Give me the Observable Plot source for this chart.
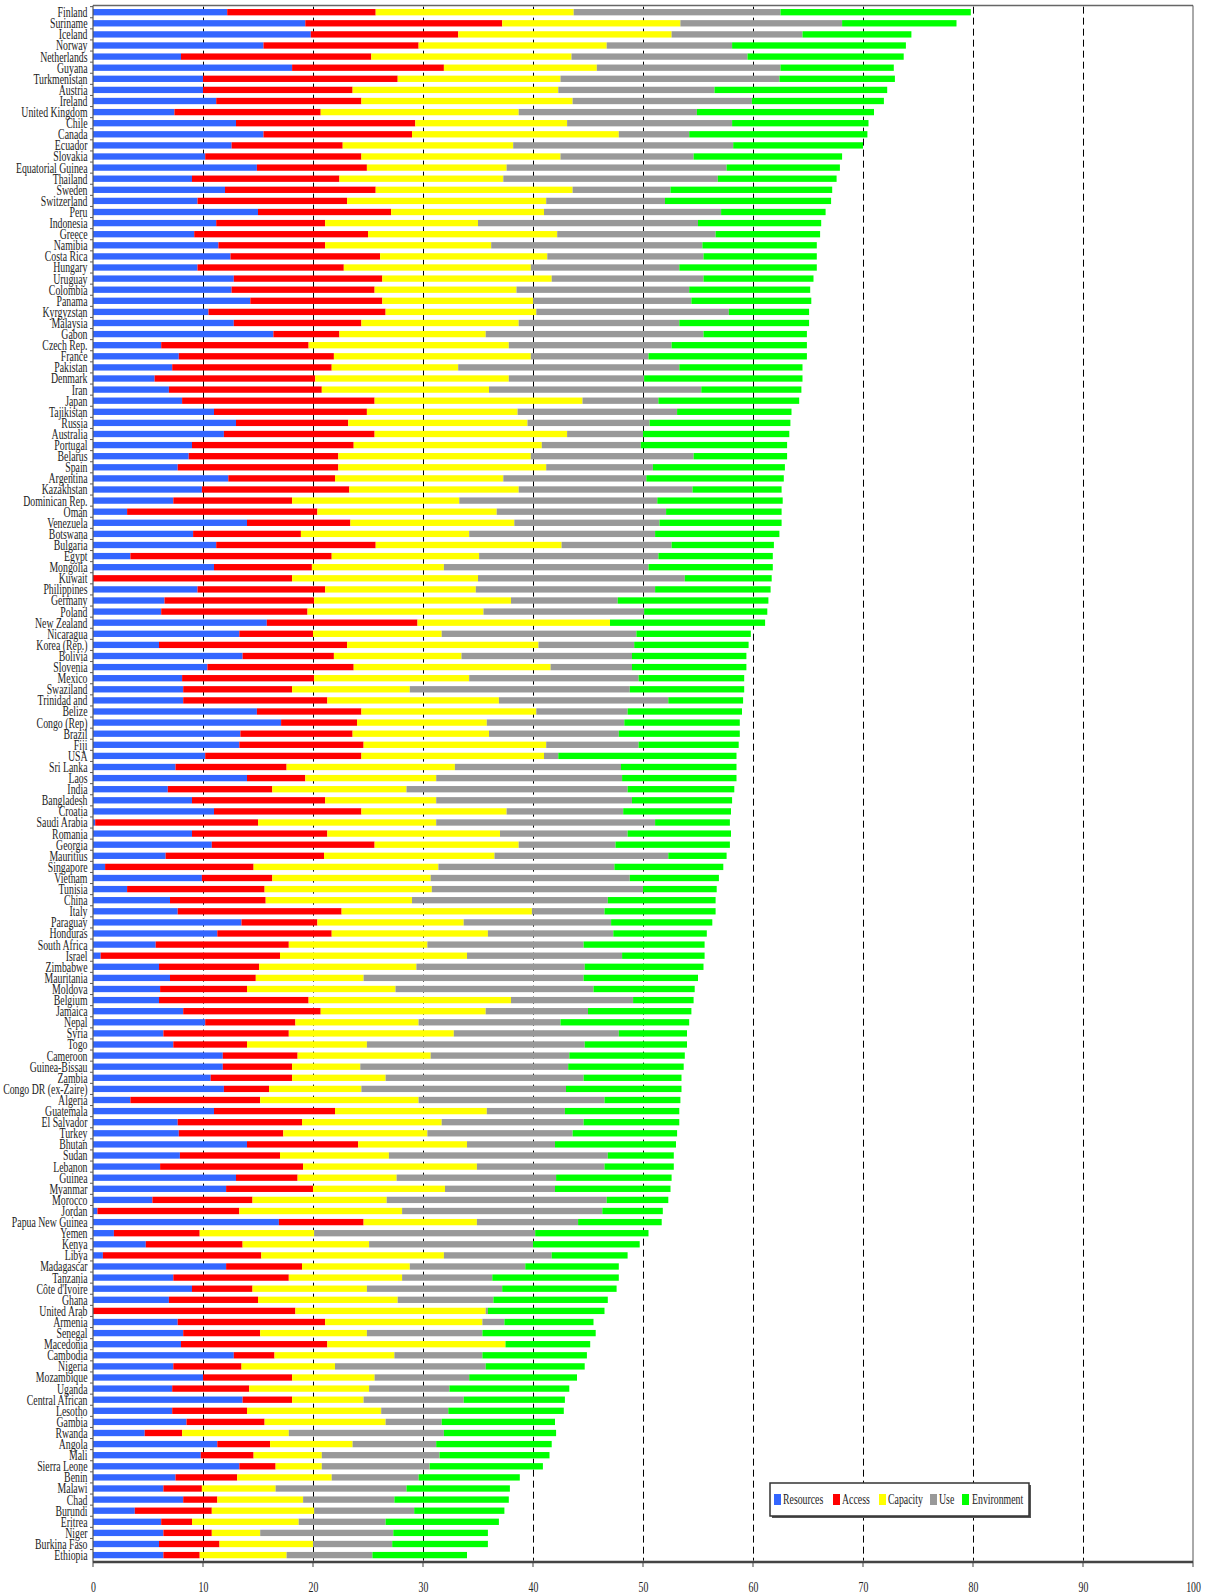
<!DOCTYPE html>
<html><head><meta charset="utf-8">
<script src="https://cdn.jsdelivr.net/npm/d3@7"></script>
<script src="https://cdn.jsdelivr.net/npm/@observablehq/plot@0.6"></script>
<style>body{margin:0;background:#fff} #chart{width:1216px;height:1596px}</style>
</head><body><div id="chart"></div>
<script>
const countries = ["Finland","Suriname","Iceland","Norway","Netherlands","Guyana","Turkmenistan","Austria","Ireland","United Kingdom","Chile","Canada","Ecuador","Slovakia","Equatorial Guinea","Thailand","Sweden","Switzerland","Peru","Indonesia","Greece","Namibia","Costa Rica","Hungary","Uruguay","Colombia","Panama","Kyrgyzstan","Malaysia","Gabon","Czech Rep.","France","Pakistan","Denmark","Iran","Japan","Tajikistan","Russia","Australia","Portugal","Belarus","Spain","Argentina","Kazakhstan","Dominican Rep.","Oman","Venezuela","Botswana","Bulgaria","Egypt","Mongolia","Kuwait","Philippines","Germany","Poland","New Zealand","Nicaragua","Korea (Rep.)","Bolivia","Slovenia","Mexico","Swaziland","Trinidad and","Belize","Congo (Rep)","Brazil","Fiji","USA","Sri Lanka","Laos","India","Bangladesh","Croatia","Saudi Arabia","Romania","Georgia","Mauritius","Singapore","Vietnam","Tunisia","China","Italy","Paraguay","Honduras","South Africa","Israel","Zimbabwe","Mauritania","Moldova","Belgium","Jamaica","Nepal","Syria","Togo","Cameroon","Guinea-Bissau","Zambia","Congo DR (ex-Zaire)","Algeria","Guatemala","El Salvador","Turkey","Bhutan","Sudan","Lebanon","Guinea","Myanmar","Morocco","Jordan","Papua New Guinea","Yemen","Kenya","Libya","Madagascar","Tanzania","Côte d'Ivoire","Ghana","United Arab","Armenia","Senegal","Macedonia","Cambodia","Nigeria","Mozambique","Uganda","Central African","Lesotho","Gambia","Rwanda","Angola","Mali","Sierra Leone","Benin","Malawi","Chad","Burundi","Eritrea","Niger","Burkina Faso","Ethiopia"];

const resources = [12.2,19.3,19.8,15.5,8.0,18.1,10.0,10.0,11.2,7.4,
13.0,15.5,12.6,10.2,14.9,9.0,12.0,9.5,15.0,11.2,
9.2,11.4,12.5,9.5,12.8,12.6,14.3,10.5,12.8,16.4,
6.2,7.8,7.2,5.6,6.9,8.1,11.0,13.0,11.9,9.0,
8.7,7.7,12.3,9.9,7.3,3.1,14.0,9.1,11.2,3.4,
11.0,0,9.5,6.5,6.2,15.8,13.3,6.0,13.6,10.4,
8.1,8.2,8.2,14.9,17.1,13.4,13.3,10.2,7.5,14.0,
6.8,9.0,11.0,0.2,9.0,10.8,6.6,1.1,9.9,3.1,
7.0,7.7,13.5,11.3,5.7,0.7,6.0,7.0,6.1,6.0,
8.2,10.2,6.4,7.3,11.8,11.8,10.7,11.9,3.4,11.0,
7.7,7.8,14.0,7.9,6.1,13.0,12.1,5.4,0.4,16.9,
1.9,4.8,0.9,12.1,7.3,9.0,6.9,0,7.7,8.2,
8.0,12.8,7.3,10.0,7.2,13.6,7.2,8.5,4.7,11.3,
9.8,13.3,7.5,6.4,8.2,3.8,6.2,6.4,6.0,6.4];

const access = [13.5,17.9,13.4,14.1,17.3,13.8,17.7,13.6,13.2,13.3,
16.3,13.5,10.1,14.2,10.0,13.4,13.7,13.6,12.1,9.9,
15.8,9.7,13.6,13.3,13.5,13.0,12.0,16.1,11.6,6.0,
13.4,14.1,14.5,14.6,13.9,17.5,13.9,10.2,13.7,14.7,
13.6,14.6,9.7,13.4,10.8,17.3,9.4,9.8,14.5,18.3,
8.9,18.1,11.6,13.6,13.3,13.7,6.7,17.1,8.3,13.3,
12.0,9.9,13.1,9.5,6.9,10.2,11.3,14.2,10.1,5.3,
9.5,12.1,13.4,14.8,12.3,14.8,14.4,13.5,6.4,12.5,
8.7,14.9,6.9,10.4,12.1,16.3,9.1,7.8,7.9,13.6,
12.5,8.2,11.4,6.7,6.8,6.3,7.4,4.1,11.8,11.0,
11.3,9.5,10.1,9.1,13.0,5.6,7.9,9.1,12.9,7.7,
7.8,8.8,14.4,6.9,10.5,5.5,8.1,18.4,13.4,7.0,
13.3,3.7,6.2,8.1,7.0,4.5,6.8,7.1,3.4,4.8,
4.8,3.3,5.6,3.5,3.1,7.0,2.8,4.4,5.5,3.3];

const capacity = [18.0,16.2,19.4,17.1,18.2,13.9,14.8,18.7,19.2,18.0,
13.8,18.8,15.5,18.1,12.7,14.9,17.9,18.1,13.9,13.9,
17.2,15.1,15.2,17.0,15.4,12.9,13.7,13.7,14.3,13.3,
18.2,17.9,11.5,17.6,15.2,18.9,13.7,16.3,17.5,17.1,
17.5,18.9,15.3,15.4,15.2,16.3,14.9,15.3,16.9,13.4,
12.0,16.9,13.7,17.9,16.0,17.5,11.7,17.4,11.6,17.9,
14.1,10.7,15.6,15.9,11.8,12.4,16.6,16.6,15.3,11.9,
12.2,10.1,13.2,16.2,15.7,13.1,15.5,16.8,14.4,15.2,
13.3,17.3,13.3,14.2,12.6,17.0,14.3,9.8,13.5,18.4,
15.0,11.2,15.0,10.9,12.1,6.2,8.5,8.4,14.4,13.8,
12.7,13.1,9.9,9.9,15.8,9.0,12.0,12.2,14.8,10.3,
10.4,11.5,16.6,9.8,10.3,10.4,12.7,17.3,14.3,9.7,
16.2,10.9,8.5,7.5,10.9,6.5,12.2,11.0,9.7,7.5,
6.2,4.2,8.6,6.7,7.8,9.3,9.7,4.4,8.5,7.9];

const use = [18.8,14.7,11.9,11.4,16.0,16.7,19.9,14.2,16.3,16.2,
15.0,6.4,20.0,12.1,20.0,19.5,8.9,10.8,16.1,20.0,
14.4,19.2,14.2,13.5,13.8,15.7,14.4,17.5,14.6,19.8,
14.8,10.7,20.1,12.3,19.3,6.9,14.5,11.1,6.9,9.0,
14.8,9.7,13.0,15.8,18.0,15.4,13.2,16.9,10.0,16.3,
18.6,18.8,16.3,9.7,14.6,0,17.7,8.7,15.5,7.4,
15.4,20.0,15.4,8.3,12.5,11.8,8.4,1.3,15.1,16.9,
20.1,17.8,10.6,19.9,11.6,8.8,15.8,16.0,18.1,19.2,
17.8,6.6,13.4,11.4,14.2,14.1,15.3,20.0,18.0,11.1,
9.3,12.9,15.0,19.8,12.6,18.9,18.0,18.6,16.9,7.1,
12.9,13.2,8.0,19.9,11.6,14.5,10.0,20.0,18.2,9.2,
20.1,14.9,9.8,10.5,8.2,12.3,8.7,0.2,2.0,10.5,
0,8.0,13.7,8.6,7.3,9.1,6.1,5.1,14.1,7.6,
10.7,9.8,7.9,11.9,8.3,9.1,7.9,12.1,7.2,7.8];

const environment = [17.3,10.4,9.9,15.8,14.2,10.3,10.5,15.7,12.0,16.1,
12.4,16.2,11.8,13.5,10.3,10.8,14.7,15.1,9.5,11.2,
9.5,10.4,10.3,12.5,10.0,11.0,10.9,7.3,11.8,9.4,
12.3,14.4,11.2,14.4,9.1,12.8,10.4,12.8,13.3,13.3,
8.5,12.0,12.5,8.1,11.4,10.5,11.1,11.3,9.3,10.4,
11.3,7.9,10.5,13.7,11.2,14.1,10.4,10.4,10.4,10.4,
9.6,10.4,6.8,10.4,10.5,11.0,9.1,16.2,10.5,10.4,
9.7,9.1,9.8,6.8,9.4,10.4,5.3,9.9,8.1,6.7,
9.8,10.1,9.2,8.5,11.0,7.5,10.8,10.4,9.2,5.5,
9.4,11.7,6.2,9.3,10.5,10.5,8.9,10.5,6.9,10.4,
8.7,9.5,11.0,6.0,6.3,10.5,10.5,5.6,5.5,7.6,
10.3,9.7,6.9,8.5,11.5,10.4,10.4,10.6,8.1,10.3,
7.7,9.5,9.0,9.8,10.9,9.2,10.5,10.3,10.2,10.5,
10.0,10.3,9.2,9.4,10.4,8.2,10.3,8.6,8.7,8.6];

const seriesNames = ["Resources","Access","Capacity","Use","Environment"];
const seriesColors = ["#3366ff","#ff0000","#ffff00","#999999","#00ff00"];
const xTicks = [0,10,20,30,40,50,60,70,80,90,100];

const seriesArrays = [resources, access, capacity, use, environment];
const rows = [];
countries.forEach((c, i) => {
  seriesArrays.forEach((arr, k) => rows.push({country: c, series: seriesNames[k], value: arr[i]}));
});

const FONT = "'Liberation Serif', 'Times New Roman', serif";

const plot = Plot.plot({
  width: 1216,
  height: 1596,
  marginLeft: 93,
  marginRight: 23,
  marginTop: 6.65,
  marginBottom: 35.35,
  style: {background: "#fff", fontFamily: FONT, overflow: "visible"},
  x: {domain: [0, 100], axis: null},
  y: {domain: countries, axis: null, paddingInner: 0.43, paddingOuter: 0.215, round: false},
  color: {domain: seriesNames, range: seriesColors},
  marks: [
    Plot.ruleX(xTicks.filter(d => d > 0 && d < 100), {x: d => d, stroke: "#000", strokeWidth: 1, strokeDasharray: "7,4"}),
    Plot.barX(rows, Plot.stackX({x: "value", y: "country", fill: "series"})),
    Plot.text(countries, {y: d => d, text: d => d, frameAnchor: "left", textAnchor: "end", dx: -6, fontSize: 14, fill: "#222"}),
    Plot.text(xTicks, {x: d => d, text: d => String(d), frameAnchor: "bottom", lineAnchor: "middle", dy: 26, fontSize: 14, fill: "#222"})
  ]
});

document.getElementById("chart").appendChild(plot);
const svg = d3.select(plot);
const xs = plot.scale("x");
const X = v => xs.apply(v);
const yTop = 5.5, yBottom = 1562;

const g = svg.append("g");
g.append("line").attr("x1", X(0)).attr("x2", X(100)).attr("y1", yTop).attr("y2", yTop).attr("stroke", "#666").attr("stroke-width", 1.5);
g.append("line").attr("x1", X(0)).attr("x2", X(0)).attr("y1", yTop).attr("y2", yBottom).attr("stroke", "#555").attr("stroke-width", 1.2);
g.append("line").attr("x1", X(100)).attr("x2", X(100)).attr("y1", yTop).attr("y2", yBottom).attr("stroke", "#555").attr("stroke-width", 1);
g.append("line").attr("x1", X(0)).attr("x2", X(100)).attr("y1", yBottom).attr("y2", yBottom).attr("stroke", "#444").attr("stroke-width", 2.5);
g.selectAll(".xt").data(xTicks).enter().append("line")
  .attr("x1", d => X(d)).attr("x2", d => X(d)).attr("y1", yBottom).attr("y2", yBottom + 5)
  .attr("stroke", "#444").attr("stroke-width", 1);
const ys = plot.scale("y");
const bw = ys.bandwidth;
const stepY = ys.step !== undefined ? ys.step : bw / (1 - 0.43);
g.selectAll(".yt").data(countries).enter().append("line")
  .attr("x1", X(0) - 3).attr("x2", X(0))
  .attr("y1", d => ys.apply(d) - (stepY - bw) / 2)
  .attr("y2", d => ys.apply(d) - (stepY - bw) / 2)
  .attr("stroke", "#555").attr("stroke-width", 1);

const lg = svg.append("g").attr("font-family", FONT).attr("font-size", 14).attr("fill", "#222").attr("text-anchor", "start");
lg.append("rect").attr("x", 772).attr("y", 1485).attr("width", 259).attr("height", 33).attr("fill", "#555");
lg.append("rect").attr("x", 770).attr("y", 1483).attr("width", 259).attr("height", 33).attr("fill", "#fff").attr("stroke", "#333").attr("stroke-width", 1.5);
const sqX = [774, 833, 879, 930, 962];
const txX = [783, 842, 888, 939, 972];
seriesNames.forEach((s, i) => {
  lg.append("rect").attr("x", sqX[i]).attr("y", 1494).attr("width", 7).attr("height", 11).attr("fill", seriesColors[i]);
  lg.append("text").attr("x", txX[i]).attr("y", 1499.5).attr("dy", "0.35em").attr("text-anchor", "start").attr("fill", "#222").text(s);
});

svg.selectAll("text").each(function() {
  const w = this.getComputedTextLength();
  if (w > 0) {
    this.setAttribute("textLength", (w * 0.7).toFixed(2));
    this.setAttribute("lengthAdjust", "spacingAndGlyphs");
  }
});
</script>
</body></html>
